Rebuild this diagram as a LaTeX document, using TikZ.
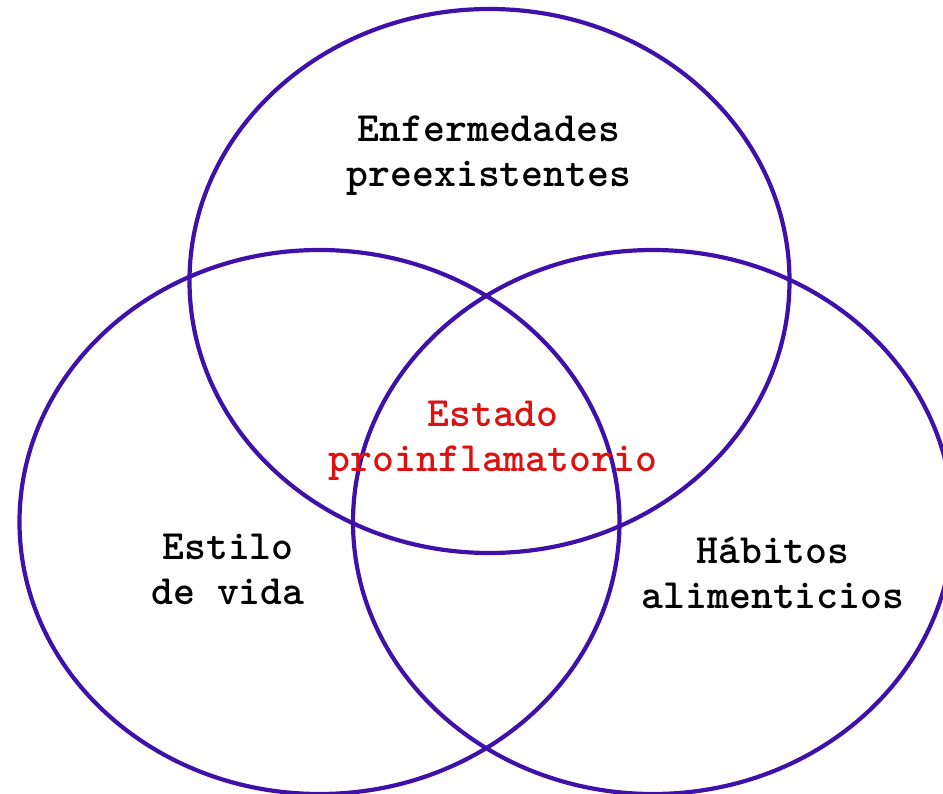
\documentclass[tikz,border=0pt]{standalone}
\usepackage{fontspec}
\definecolor{ring}{RGB}{62,18,170}
\definecolor{redtxt}{RGB}{220,18,18}
\begin{document}
\begin{tikzpicture}[x=1pt,y=-1pt,
  ring/.style={draw=ring,line width=4.2pt},
  lbl/.style={align=center,inner sep=0pt,font=\ttfamily\bfseries\fontsize{41.7}{45}\selectfont}]
\useasboundingbox (0,0) rectangle (943,794);
\begin{scope}
\clip (0,0) rectangle (943,794);
\draw[ring] (489.5,281) ellipse [x radius=300, y radius=272];
\draw[ring] (319.5,522) ellipse [x radius=300, y radius=272];
\draw[ring] (653,522) ellipse [x radius=300, y radius=272];
\end{scope}
\node[lbl] (top) at (489,156) {Enfermedades\\preexistentes};
\node[lbl,text=redtxt] (mid) at (493,441) {Estado\\proinflamatorio};
\node[lbl] (left) at (228,569) {Estilo\\de vida};
\node[lbl] (right) at (773,573) {Hábitos\\alimenticios};
\end{tikzpicture}
\end{document}
